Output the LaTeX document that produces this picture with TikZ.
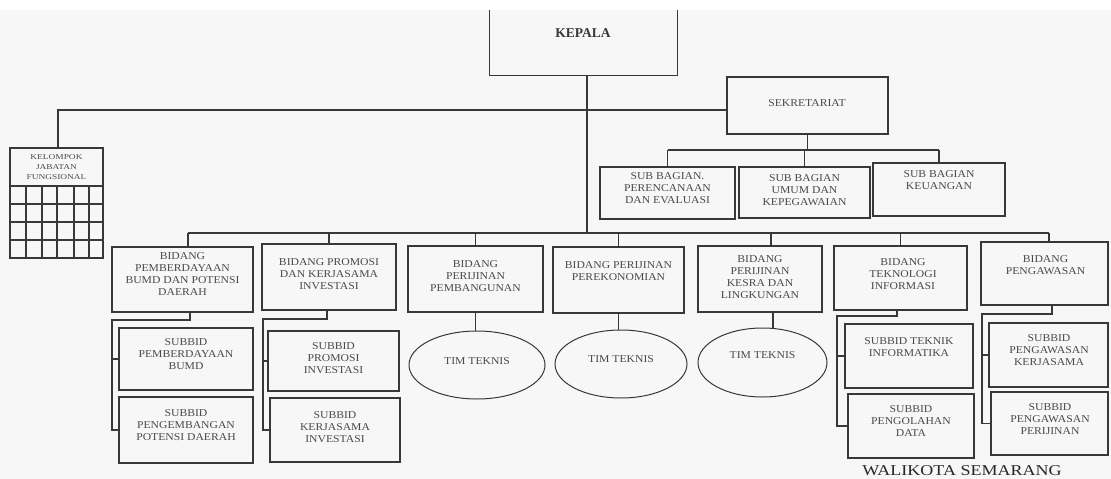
\documentclass[tikz,border=0pt]{standalone}
\usepackage{fontspec}
\setmainfont{Liberation Serif}
\newfontfamily\boxfont[FakeStretch=1.11]{Liberation Serif}
\newfontfamily\kelfont[FakeStretch=1.25]{Liberation Serif}
\newfontfamily\walifont[FakeStretch=1.2]{Liberation Serif}
\usetikzlibrary{fit,shapes.geometric}
\definecolor{ink}{HTML}{383838}
\definecolor{txtc}{HTML}{4A4A4A}
\definecolor{paper}{HTML}{F7F7F7}
\begin{document}
\begin{tikzpicture}[x=1pt,y=-1pt,
  box/.style={draw=ink, line width=1.2pt, inner sep=0pt},
  conn/.style={draw=ink, line width=1.2pt},
  ell/.style={ellipse, draw=ink, line width=1pt, inner sep=0pt},
  txt/.style={align=center, inner sep=0pt, text=txtc, font=\boxfont\fontsize{10.5}{12}\selectfont},
  kelt/.style={align=center, inner sep=0pt, text=txtc, font=\kelfont\fontsize{7.5}{10}\selectfont},
  kept/.style={inner sep=0pt, text=ink, font=\bfseries\fontsize{13.5}{16}\selectfont},
  walt/.style={inner sep=0pt, text=black!85, font=\walifont\fontsize{15}{18}\selectfont}]
\useasboundingbox (0,0) rectangle (1111,479);
\fill[white] (0,0) rectangle (1111,10);
\fill[paper] (0,10) rectangle (1111,479);

% ---------- top level
\node[inner sep=0pt, fit={(490,10) (677,75)}] (kep) {};
\draw[conn] (kep.north west) |- (kep.south east) -- (kep.north east);
\node[kept] (kept) at (583,33) {KEPALA};

\node[box, fit={(727,77) (888,134)}] (sek) {};
\node[txt] (sekt) at (807,103) {SEKRETARIAT};

\node[box, fit={(600,167) (735,219)}] (sb1) {};
\node[txt] (sb1t) at (667.5,188.5) {SUB BAGIAN.\\PERENCANAAN\\DAN EVALUASI};
\node[box, fit={(739,167) (870,218)}] (sb2) {};
\node[txt] (sb2t) at (804.5,190) {SUB BAGIAN\\UMUM DAN\\KEPEGAWAIAN};
\node[box, fit={(873,163) (1005,216)}] (sb3) {};
\node[txt] (sb3t) at (939,180) {SUB BAGIAN\\KEUANGAN};

% ---------- kelompok jabatan fungsional
\node[box, fit={(10,148) (103,258)}] (kel) {};
\node[kelt] (kelt) at (56.5,167) {KELOMPOK\\JABATAN\\FUNGSIONAL};
\foreach \yy in {186,204,222,240} \draw[conn] (10,\yy) -- (103,\yy);
\foreach \xx in {26,42,57,74,89} \draw[conn] (\xx,186) -- (\xx,258);

% ---------- bidang
\node[box, fit={(112,247) (253,312)}] (b1) {};
\node[txt] (b1t) at (182.5,274) {BIDANG\\PEMBERDAYAAN\\BUMD DAN POTENSI\\DAERAH};
\node[box, fit={(262,244) (396,310)}] (b2) {};
\node[txt] (b2t) at (329,274.5) {BIDANG PROMOSI\\DAN KERJASAMA\\INVESTASI};
\node[box, fit={(408,246) (543,312)}] (b3) {};
\node[txt] (b3t) at (475.5,276) {BIDANG\\PERIJINAN\\PEMBANGUNAN};
\node[box, fit={(553,247) (684,313)}] (b4) {};
\node[txt] (b4t) at (618.5,271) {BIDANG PERIJINAN\\PEREKONOMIAN};
\node[box, fit={(698,246) (822,312)}] (b5) {};
\node[txt] (b5t) at (760,277.5) {BIDANG\\PERIJINAN\\KESRA DAN\\LINGKUNGAN};
\node[box, fit={(834,246) (967,310)}] (b6) {};
\node[txt] (b6t) at (903,274.5) {BIDANG\\TEKNOLOGI\\INFORMASI};
\node[box, fit={(981,242) (1108,305)}] (b7) {};
\node[txt] (b7t) at (1045.5,265) {BIDANG\\PENGAWASAN};

% ---------- subbid
\node[box, fit={(119,328) (253,390)}] (s1a) {};
\node[txt] (s1at) at (186,354.5) {SUBBID\\PEMBERDAYAAN\\BUMD};
\node[box, fit={(119,397) (253,463)}] (s1b) {};
\node[txt] (s1bt) at (186,425.5) {SUBBID\\PENGEMBANGAN\\POTENSI DAERAH};
\node[box, fit={(268,331) (399,391)}] (s2a) {};
\node[txt] (s2at) at (333.5,358) {SUBBID\\PROMOSI\\INVESTASI};
\node[box, fit={(270,398) (400,462)}] (s2b) {};
\node[txt] (s2bt) at (335,427) {SUBBID\\KERJASAMA\\INVESTASI};
\node[box, fit={(845,324) (973,388)}] (s6a) {};
\node[txt] (s6at) at (909,347.5) {SUBBID TEKNIK\\INFORMATIKA};
\node[box, fit={(848,394) (974,458)}] (s6b) {};
\node[txt] (s6bt) at (911,421.5) {SUBBID\\PENGOLAHAN\\DATA};
\node[box, fit={(989,323) (1108,387)}] (s7a) {};
\node[txt] (s7at) at (1049,350.5) {SUBBID\\PENGAWASAN\\KERJASAMA};
\node[box, fit={(991,392) (1108,455)}] (s7b) {};
\node[txt] (s7bt) at (1050,419.5) {SUBBID\\PENGAWASAN\\PERIJINAN};

% ---------- tim teknis
\node[ell, minimum width=136, minimum height=68] (e1) at (477,365) {};
\node[txt] (e1t) at (477,361) {TIM TEKNIS};
\node[ell, minimum width=132, minimum height=68] (e2) at (621,364) {};
\node[txt] (e2t) at (621,359) {TIM TEKNIS};
\node[ell, minimum width=129, minimum height=69] (e3) at (762.5,362.5) {};
\node[txt] (e3t) at (762.5,355) {TIM TEKNIS};

\node[walt] (wali) at (962,471) {WALIKOTA SEMARANG};

% ---------- connectors
\coordinate (kx) at (587,0);
\coordinate (hl) at (58,110);
\coordinate (bus) at (0,233);
\coordinate (sbb) at (0,150);
\draw[conn] (kep.south -| kx) -- (kx |- bus);
\draw[conn] (kel.north -| hl) |- (sek.west |- hl);

\draw[conn] (sek.south) -- (sek.south |- sbb);
\draw[conn] (sb1.north |- sbb) -- (sb3.north |- sbb);
\draw[conn] (sb1.north) -- (sb1.north |- sbb);
\draw[conn] (sb2.north) -- (sb2.north |- sbb);
\draw[conn] (sb3.north) -- (sb3.north |- sbb);

\coordinate (b1c) at ([xshift=5.5]b1.north);
\coordinate (b5c) at ([xshift=11]b5.north);
\coordinate (b7c) at ([xshift=4.5]b7.north);
\draw[conn] (b1c |- bus) -- (b7c |- bus);
\draw[conn] (b1c) -- (b1c |- bus);
\draw[conn] (b2.north) -- (b2.north |- bus);
\draw[conn] (b3.north) -- (b3.north |- bus);
\draw[conn] (b4.north) -- (b4.north |- bus);
\draw[conn] (b5c) -- (b5c |- bus);
\draw[conn] (b6.north) -- (b6.north |- bus);
\draw[conn] (b7c) -- (b7c |- bus);

% brackets
\coordinate (b1d) at ([xshift=7.5]b1.south);
\coordinate (k1) at (112,320);
\draw[conn] (b1d) |- (k1) -- (k1 |- s1b.west) -- (s1b.west);
\draw[conn] (k1 |- s1a.west) -- (s1a.west);

\coordinate (b2d) at ([xshift=-2]b2.south);
\coordinate (k2) at (263,319);
\draw[conn] (b2d) |- (k2) -- (k2 |- s2b.west) -- (s2b.west);
\draw[conn] (k2 |- s2a.west) -- (s2a.west);

\coordinate (b6d) at ([xshift=-3.5]b6.south);
\coordinate (k6) at (837,316);
\draw[conn] (b6d) |- (k6) -- (k6 |- s6b.west) -- (s6b.west);
\draw[conn] (k6 |- s6a.west) -- (s6a.west);

\coordinate (b7d) at ([xshift=7.5]b7.south);
\coordinate (k7) at (982,314);
\draw[conn] (b7d) |- (k7) -- (k7 |- s7b.west) -- (s7b.west);
\draw[conn] (k7 |- s7a.west) -- (s7a.west);

% ellipses
\draw[conn] (b3.south) -- (b3.south |- e1.north);
\draw[conn] (b4.south) -- (b4.south |- e2.north);
\coordinate (b5d) at ([xshift=13]b5.south);
\draw[conn] (b5d) -- (b5d |- e3.north);
\end{tikzpicture}
\end{document}
